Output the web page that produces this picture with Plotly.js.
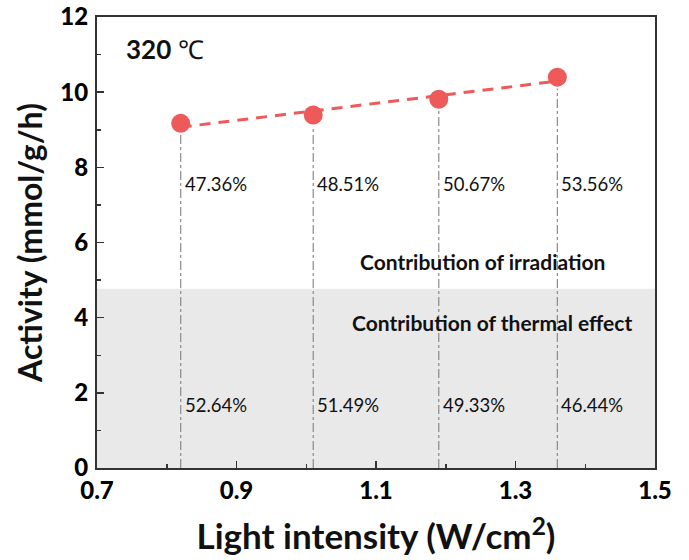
<!DOCTYPE html>
<html><head><meta charset="utf-8">
<script src="https://cdn.plot.ly/plotly-3.0.1.min.js"></script>
<style>body{margin:0;background:#fff}#chart{width:689px;height:560px}</style>
</head><body><div id="chart"></div>
<script>
var intensity = [0.82, 1.01, 1.19, 1.36];
var activity = [9.17, 9.39, 9.81, 10.40];
var irradiationPct = ['47.36%', '48.51%', '50.67%', '53.56%'];
var thermalPct = ['52.64%', '51.49%', '49.33%', '46.44%'];
var thermalLevel = 4.77;
var xRange = [0.7, 1.5];
var yRange = [0, 12];

// least-squares fit line through the points
var n = intensity.length, mx = 0, my = 0;
for (var i = 0; i < n; i++) { mx += intensity[i]; my += activity[i]; }
mx /= n; my /= n;
var sxy = 0, sxx = 0;
for (var i = 0; i < n; i++) { sxy += (intensity[i]-mx)*(activity[i]-my); sxx += (intensity[i]-mx)*(intensity[i]-mx); }
var slope = sxy / sxx, icpt = my - slope*mx;
var fitX = [intensity[0], intensity[n-1]];
var fitY = fitX.map(function(v){ return icpt + slope*v; });

var FF = 'Lato, "Open Sans", sans-serif';
var red = '#ee5a5a';
var traces = [];
traces.push({x: fitX, y: fitY, mode: 'lines', line: {color: red, width: 3, dash: '11px,8px'}, hoverinfo: 'skip', showlegend: false});
traces.push({x: intensity, y: activity, mode: 'markers', marker: {color: red, size: 19}, showlegend: false, cliponaxis: false});

var shapes = [{type: 'rect', xref: 'x', yref: 'y', x0: xRange[0], x1: xRange[1], y0: 0, y1: thermalLevel, fillcolor: '#e9e9e9', line: {width: 0}, layer: 'below'}];
for (var i = 0; i < n; i++) {
  shapes.push({type: 'line', xref: 'x', yref: 'y', x0: intensity[i], x1: intensity[i], y0: 0, y1: activity[i] - 0.3, line: {color: '#8a8a8a', width: 1.2, dash: 'dashdot'}, layer: 'below'});
}

var annotations = [];
for (var i = 0; i < n; i++) {
  annotations.push({x: intensity[i], y: 7.55, xref: 'x', yref: 'y', text: irradiationPct[i], showarrow: false, xanchor: 'left', xshift: 2, font: {family: FF, size: 18.5, color: '#111'}});
  annotations.push({x: intensity[i], y: 1.68, xref: 'x', yref: 'y', text: thermalPct[i], showarrow: false, xanchor: 'left', xshift: 2, font: {family: FF, size: 18.5, color: '#111'}});
}
annotations.push({x: 1.252, y: 5.49, xref: 'x', yref: 'y', text: '<b>Contribution of irradiation</b>', showarrow: false, font: {family: FF, size: 21, color: '#111'}});
annotations.push({x: 1.266, y: 3.87, xref: 'x', yref: 'y', text: '<b>Contribution of thermal effect</b>', showarrow: false, font: {family: FF, size: 21, color: '#111'}});
annotations.push({x: 0.738, y: 11.15, xref: 'x', yref: 'y', text: '<b>320</b> ℃', showarrow: false, xanchor: 'left', font: {family: FF, size: 26, color: '#111'}});

var axFont = {family: FF, size: 24, color: '#000', weight: 900};
var layout = {
  width: 689, height: 560,
  margin: {l: 97, r: 34, t: 17, b: 92},
  paper_bgcolor: '#fff', plot_bgcolor: '#fff',
  xaxis: {range: xRange, tickvals: [0.7, 0.9, 1.1, 1.3, 1.5], ticktext: ['0.7','0.9','1.1','1.3','1.5'],
    ticks: 'inside', ticklen: 7, tickwidth: 1.5, tickcolor: '#333',
    minor: {tickvals: [0.8, 1.0, 1.2, 1.4], ticks: 'inside', ticklen: 4, tickwidth: 1.5, tickcolor: '#333'},
    showline: true, linecolor: '#333', linewidth: 2, mirror: true, showgrid: false, zeroline: false,
    tickfont: axFont, automargin: false,
    title: {text: '<b>Light intensity (W/cm<sup>2</sup>)</b>', font: {family: FF, size: 35, color: '#111'}, standoff: 22}},
  yaxis: {range: yRange, tickvals: [0, 2, 4, 6, 8, 10, 12],
    ticks: 'inside', ticklen: 7, tickwidth: 1.5, tickcolor: '#333',
    minor: {tickvals: [1, 3, 5, 7, 9, 11], ticks: 'inside', ticklen: 4, tickwidth: 1.5, tickcolor: '#333'},
    showline: true, linecolor: '#333', linewidth: 2, mirror: true, showgrid: false, zeroline: false,
    tickfont: axFont, ticklabelstandoff: 2, automargin: false,
    title: {text: '<b>Activity (mmol/g/h)</b>', font: {family: FF, size: 32, color: '#111'}, standoff: 8}},
  shapes: shapes,
  annotations: annotations,
  showlegend: false
};
Plotly.newPlot('chart', traces, layout, {displayModeBar: false, staticPlot: true});
</script></body></html>
